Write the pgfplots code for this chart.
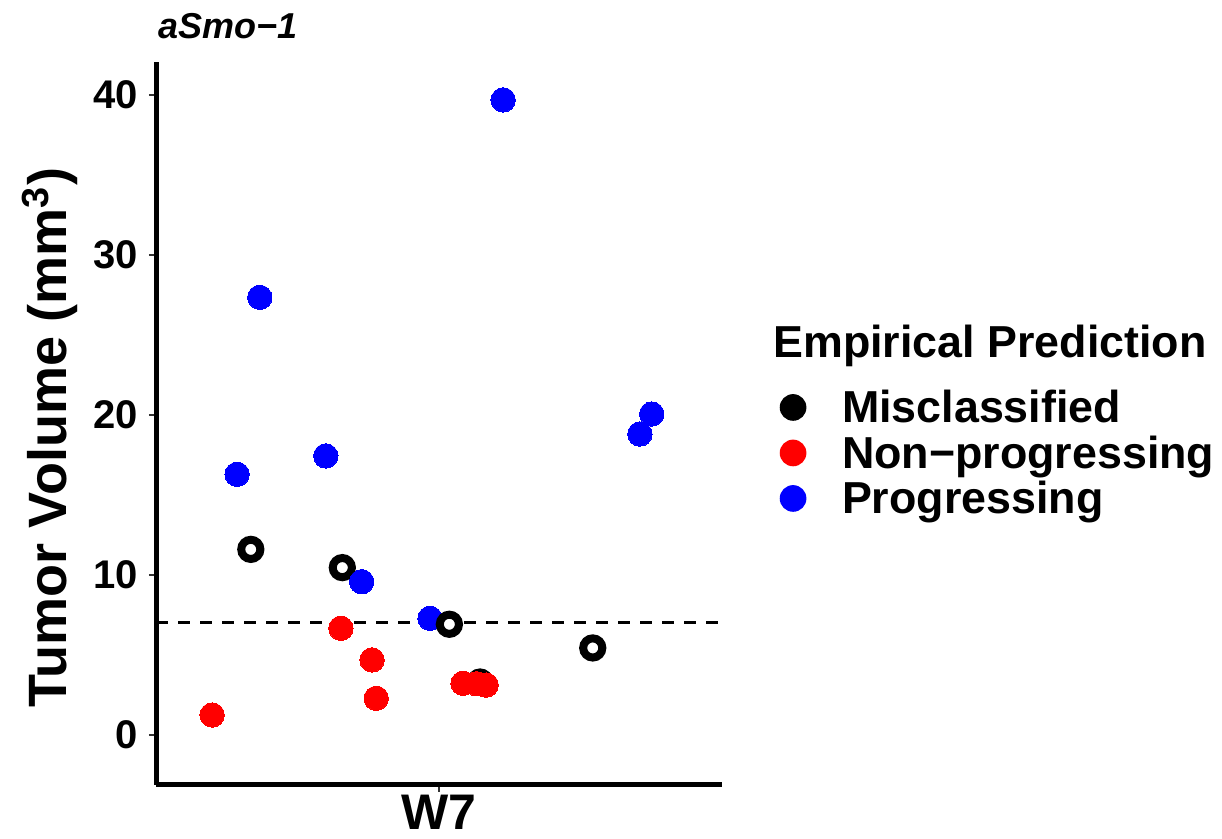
\documentclass[border=0pt]{standalone}
\usepackage{fontspec}
\setmainfont{Liberation Sans}
\usepackage{pgfplots}
\pgfplotsset{compat=1.18}
\definecolor{ggblue}{HTML}{0000FF}
\definecolor{ggred}{HTML}{FF0000}
\definecolor{tickgray}{HTML}{333333}

\begin{document}
\begin{tikzpicture}
\useasboundingbox (0,0) rectangle (611pt,419.5pt);
\begin{axis}[
    at={(78pt,27pt)}, anchor=south west,
    width=283pt, height=361.5pt, scale only axis,
    xmin=0.4, xmax=1.6, ymin=-3.125, ymax=42.06,
    axis x line*=bottom, axis y line*=left,
    axis line style={line width=2.5pt, -},
    xtick={1}, xticklabels={W7},
    ytick={0,10,20,30,40},
    tick align=outside, major tick length=3.5pt,
    tick style={tickgray, line width=1pt},
    /pgf/number format/assume math mode=true,
    yticklabel style={font=\fontsize{20}{24}\selectfont\bfseries, inner sep=0pt, anchor=east, xshift=-5.5pt},
    xticklabel style={font=\fontsize{25}{30}\selectfont\bfseries, inner sep=0pt, anchor=north, yshift=-1.5pt},
    ylabel={Tumor Volume (mm\textsuperscript{3})},
    ylabel style={font=\fontsize{27}{32}\selectfont\bfseries, at={(rel axis cs:-0.187,0.4806)}, rotate=0, anchor=center},
    clip=false,
    legend style={at={(axis description cs:1.102,0.545)}, anchor=north west, draw=none, fill=none,
        inner sep=0pt, outer sep=0pt, row sep=0pt,
        nodes={font=\fontsize{22.4}{22.75}\selectfont\bfseries, inner sep=0pt, anchor=base west,
               text height=16pt, text depth=6.75pt}},
    legend cell align=left,
]
% progressing (drawn below the rings)
\addplot[ggblue, only marks, mark=*, mark size=6.1pt, mark options={draw=ggblue, fill=ggblue, line width=0pt}, forget plot]
  coordinates {(1.136,39.69) (0.620,27.35) (0.572,16.29) (0.760,17.44) (0.981,7.29) (1.426,18.81) (1.451,20.06)};
% misclassified: open rings
\addplot[black, only marks, mark=*, mark size=4.8pt, mark options={draw=black, fill=white, line width=4pt}, forget plot]
  coordinates {(0.601,11.6) (0.795,10.46) (1.022,6.92) (1.087,3.31) (1.326,5.44)};
% progressing point drawn over a ring
\addplot[ggblue, only marks, mark=*, mark size=6.1pt, mark options={draw=ggblue, fill=ggblue, line width=0pt}, forget plot]
  coordinates {(0.836,9.58)};
% non-progressing
\addplot[ggred, only marks, mark=*, mark size=6.1pt, mark options={draw=ggred, fill=ggred, line width=0pt}, forget plot]
  coordinates {(0.519,1.25) (0.792,6.67) (0.858,4.69) (0.867,2.29) (1.051,3.23) (1.080,3.2) (1.100,3.12)};
% threshold
\addplot[black, line width=1.5pt, dash pattern=on 6pt off 5pt, forget plot]
  coordinates {(0.4,7) (1.6,7)};

\addlegendimage{legend image code/.code={\fill[black, draw=none] (0pt,7.75pt) circle (6.67pt); \path[draw=none] (-6.67pt,0pt) -- (24.5pt,0pt);}}
\addlegendentry{Misclassified}
\addlegendimage{legend image code/.code={\fill[ggred, draw=none] (0pt,7.75pt) circle (6.67pt); \path[draw=none] (-6.67pt,0pt) -- (24.5pt,0pt);}}
\addlegendentry{Non\textminus progressing}
\addlegendimage{legend image code/.code={\fill[ggblue, draw=none] (0pt,7.75pt) circle (6.67pt); \path[draw=none] (-6.67pt,0pt) -- (24.5pt,0pt);}}
\addlegendentry{Progressing}
\end{axis}
\node[anchor=base west, inner sep=0pt, font=\fontsize{18}{22}\selectfont\bfseries\itshape] at (79pt,400pt) {aSmo\textminus 1};
\node[anchor=base west, inner sep=0pt, font=\fontsize{22.4}{27}\selectfont\bfseries] at (386.5pt,240.5pt) {Empirical Prediction};
\end{tikzpicture}
\end{document}
